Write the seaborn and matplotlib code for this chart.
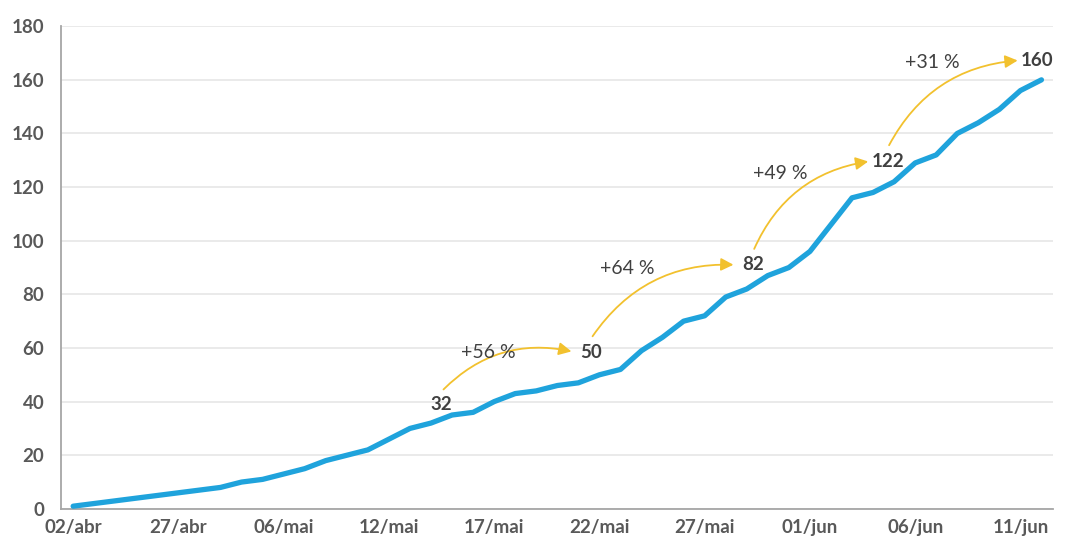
import matplotlib.pyplot as plt
import numpy as np
import pandas as pd
import seaborn as sns

# cumulative values, one per reporting point
values = [1, 2, 3, 4, 5, 6, 7, 8, 10, 11, 13, 15, 18, 20, 22, 26, 30, 32, 35, 36,
          40, 43, 44, 46, 47, 50, 52, 59, 64, 70, 72, 79, 82, 87, 90, 96, 106, 116,
          118, 122, 129, 132, 140, 144, 149, 156, 160]
tick_labels = ["02/abr", "27/abr", "06/mai", "12/mai", "17/mai",
               "22/mai", "27/mai", "01/jun", "06/jun", "11/jun"]
tick_step = 5

# milestone points and the growth between them
milestone_idx = [17, 25, 32, 39, 46]
growth_labels = ["+56 %", "+64 %", "+49 %", "+31 %"]

df = pd.DataFrame({"idx": np.arange(len(values)), "value": values})

sns.set_style("white")
plt.rcParams["font.family"] = ["Lato", "DejaVu Sans"]

fig = plt.figure(figsize=(10.73, 5.46), dpi=100)
ax = fig.add_axes([0.057, 0.068, 0.924, 0.884])

sns.lineplot(data=df, x="idx", y="value", ax=ax, color="#1fa3dc", linewidth=3.8,
             solid_capstyle="round", solid_joinstyle="round", zorder=3)

ax.set_xlim(-0.57, len(values) - 0.47)
ax.set_ylim(0, 180)
ax.set_yticks(range(0, 181, 20))
ax.set_xticks(range(0, len(values), tick_step))
ax.set_xticklabels(tick_labels)
ax.set_xlabel("")
ax.set_ylabel("")
ax.grid(axis="y", color="#e6e6e6", linewidth=1.2, zorder=0)
ax.grid(axis="x", visible=False)
for side in ["top", "right"]:
    ax.spines[side].set_visible(False)
for side in ["left", "bottom"]:
    ax.spines[side].set_color("#a6a6a6")
    ax.spines[side].set_linewidth(1.3)
ax.tick_params(axis="both", length=0, labelsize=13.5, labelcolor="#595959")
ax.tick_params(axis="y", pad=12)
ax.tick_params(axis="x", pad=7)
for lab in ax.get_xticklabels() + ax.get_yticklabels():
    lab.set_fontweight("bold")

# value labels sit up and to the right of each milestone
label_dx = [0.5, -0.4, 0.3, -0.3, -0.2]
label_dy = [6.8, 8.5, 9.0, 7.7, 7.3]
for i, k in enumerate(milestone_idx):
    v = values[k]
    ax.text(k + label_dx[i], v + label_dy[i], str(v), ha="center", va="center",
            fontsize=13.5, fontweight="bold", color="#404040", zorder=5)

# curved yellow arrows between milestones, growth text above each
text_dx = [2.7, 1.3, 1.6, 1.8]
text_dy = [0.0, -1.2, -4.8, -0.7]
for i in range(len(growth_labels)):
    a, b = milestone_idx[i], milestone_idx[i + 1]
    start = (a + label_dx[i], values[a] + label_dy[i] + 5.0)
    end = (b + label_dx[i + 1] - 0.8, values[b] + label_dy[i + 1])
    ax.annotate("", xy=end, xytext=start,
                arrowprops=dict(arrowstyle="-|>,head_length=0.75,head_width=0.38",
                                color="#f2c12e", linewidth=1.3,
                                connectionstyle="arc3,rad=-0.28"),
                zorder=4)
    ax.text(a + text_dx[i], end[1] + text_dy[i], growth_labels[i], ha="center",
            va="center", fontsize=14, color="#404040", zorder=5)

fig.savefig("out.png", dpi=100)
